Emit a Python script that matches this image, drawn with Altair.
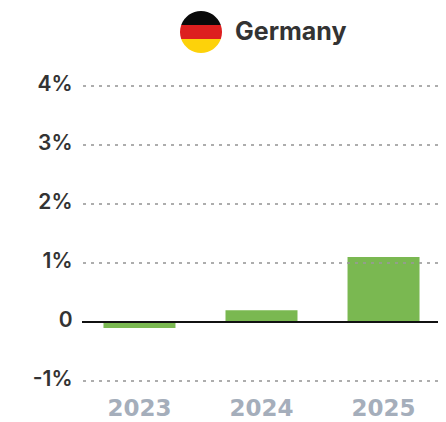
import altair as alt
import pandas as pd

years = ["2023", "2024", "2025"]
values = [-0.1, 0.2, 1.1]
grid_lines = [-1, 1, 2, 3, 4]
y_ticks = [-1, 0, 1, 2, 3, 4]
country = ["Germany"]
flag_black = "M-0.9428,-0.3333 A1,1 0 0 1 0.9428,-0.3333 Z"
flag_red = "M-0.9428,-0.3333 L0.9428,-0.3333 A1,1 0 0 1 0.9428,0.3333 L-0.9428,0.3333 A1,1 0 0 1 -0.9428,-0.3333 Z"
flag_gold = "M-0.9428,0.3333 L0.9428,0.3333 A1,1 0 0 1 -0.9428,0.3333 Z"

FONT = "Inter"
bars_df = pd.DataFrame({"year": years, "value": values})
grid_df = pd.DataFrame({"v": grid_lines})
zero_df = pd.DataFrame({"v": [0]})
one_df = pd.DataFrame({"name": country})

y_scale = alt.Scale(domain=[-1, 4], nice=False, zero=False)
x_scale = alt.Scale(domain=years, range=[0, 359], paddingInner=0.41, paddingOuter=0.176)

bars = alt.Chart(bars_df).mark_bar(color="#7ab851").encode(
    x=alt.X("year:N", scale=x_scale, sort=years, axis=alt.Axis(
        title=None, domain=False, ticks=False, labelAngle=0, labelFont="DejaVu Sans",
        labelFontSize=23, labelFontWeight=700, labelColor="#a5aebb", labelPadding=16)),
    y=alt.Y("value:Q", scale=y_scale, axis=alt.Axis(
        title=None, values=y_ticks, domain=False, ticks=False, grid=False, labelOffset=-2,
        labelExpr="datum.value === 0 ? '0' : datum.value + '%'", labelFont=FONT,
        labelFontSize=21, labelFontWeight=600, labelColor="#333333", labelPadding=10)),
)

grid = alt.Chart(grid_df).mark_rule(
    color="#999999", opacity=0.8, strokeWidth=2, strokeDash=[3, 5]
).encode(y=alt.Y("v:Q", scale=y_scale))

zero = alt.Chart(zero_df).mark_rule(color="#111111", strokeWidth=2).encode(
    y=alt.Y("v:Q", scale=y_scale))

title = alt.Chart(one_df).mark_text(
    align="left", baseline="middle", font=FONT, fontSize=25, fontWeight=700, color="#333333"
).encode(x=alt.value(153), y=alt.value(-54), text="name:N")


def band(path, colour):
    return alt.Chart(one_df).mark_point(
        shape=path, filled=True, color=colour, opacity=1, size=1764, strokeWidth=0
    ).encode(x=alt.value(119), y=alt.value(-54))


chart = alt.layer(
    bars, grid, zero, band(flag_black, "#0a0a0a"), band(flag_red, "#dd1f1f"),
    band(flag_gold, "#fdd20a"), title
).resolve_scale(y="shared").properties(
    width=356, height=295, autosize="none",
    padding={"left": 74, "top": 78, "right": 0, "bottom": 41},
).configure_view(stroke=None)

chart.save("out.html", embed_options={"renderer": "svg", "actions": False})
